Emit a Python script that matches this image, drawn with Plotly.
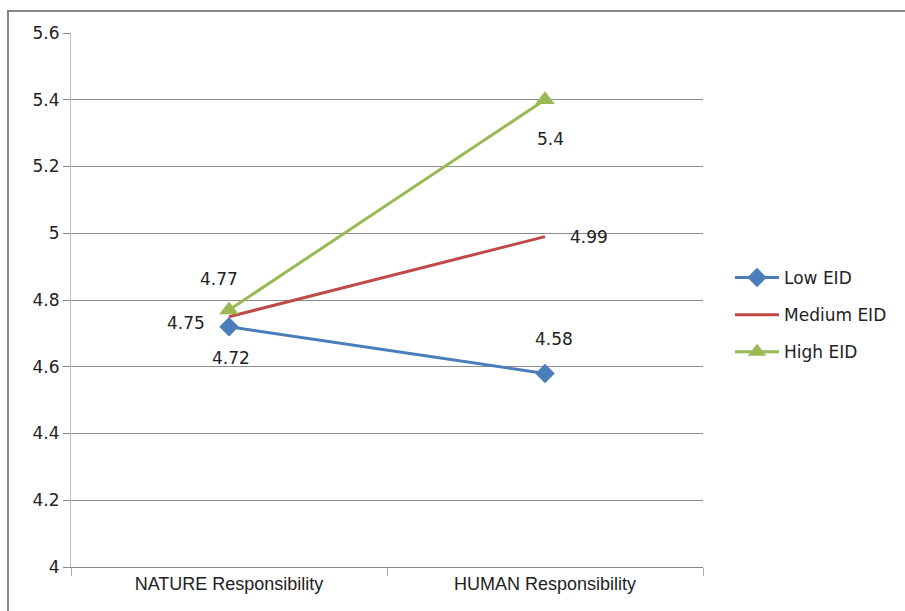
import plotly.graph_objects as go

# Categories and series values
categories = ["NATURE Responsibility", "HUMAN Responsibility"]
low_eid = [4.72, 4.58]
medium_eid = [4.75, 4.99]
high_eid = [4.77, 5.4]
y_ticks = [4, 4.2, 4.4, 4.6, 4.8, 5, 5.2, 5.4, 5.6]
y_tick_text = ["4", "4.2", "4.4", "4.6", "4.8", "5", "5.2", "5.4", "5.6"]

BLUE = "#4A7EBB"
RED = "#BE4B48"
GREEN = "#98B954"
NUM_FONT = dict(family="DejaVu Sans", size=17, color="#222222")

fig = go.Figure()
fig.add_trace(go.Scatter(
    x=categories, y=low_eid, name="Low EID", mode="lines+markers",
    line=dict(color=BLUE, width=3),
    marker=dict(symbol="diamond", size=15, color=BLUE),
    legendgroup="low",
))
fig.add_trace(go.Scatter(
    x=categories, y=medium_eid, name="Medium EID", mode="lines",
    line=dict(color=RED, width=3),
    legendgroup="med",
))
fig.add_trace(go.Scatter(
    x=categories, y=high_eid, name="High EID", mode="lines+markers",
    line=dict(color=GREEN, width=3),
    marker=dict(symbol="triangle-up", size=17, color=GREEN),
    legendgroup="high",
))

# Value labels, offset in pixels from each point
label_offsets = {
    "low": [(2, -31), (9, 34)],
    "med": [(-43, -6), (44, 0)],
    "high": [(-10, 31), (5, -39)],
}
series = {"low": low_eid, "med": medium_eid, "high": high_eid}
for key, vals in series.items():
    for i, v in enumerate(vals):
        dx, dy = label_offsets[key][i]
        fig.add_annotation(
            x=categories[i], y=v, text=f"{v:g}", showarrow=False,
            xshift=dx, yshift=dy, font=NUM_FONT,
        )

# Outer chart border (paper coordinates relative to plot area)
L, W, T, H = 71, 632, 33, 534
def px_x(p):
    return (p - L) / W
def px_y(p):
    return (T + H - p) / H
fig.add_shape(
    type="rect", xref="paper", yref="paper",
    x0=px_x(8), x1=px_x(915), y0=px_y(620), y1=px_y(11),
    line=dict(color="#878787", width=2), fillcolor="rgba(0,0,0,0)",
    layer="below",
)

fig.update_layout(
    width=905, height=611,
    margin=dict(l=L, r=905 - L - W, t=T, b=611 - T - H, autoexpand=False),
    paper_bgcolor="white", plot_bgcolor="white",
    showlegend=True,
    legend=dict(
        x=px_x(730), y=px_y(260), xanchor="left", yanchor="top",
        font=dict(family="DejaVu Sans", size=17, color="#222222"),
        traceorder="grouped", tracegroupgap=12, itemwidth=44,
        bgcolor="rgba(0,0,0,0)",
    ),
    xaxis=dict(
        type="category", range=[-0.5, 1.5],
        showgrid=False, showline=True, linecolor="#868686", linewidth=1,
        ticks="outside", tickson="boundaries", ticklen=8, tickcolor="#B0B0B0",
        tickfont=dict(family="Liberation Sans", size=18, color="#222222"),
        fixedrange=True,
    ),
    yaxis=dict(
        range=[4, 5.6], tickvals=y_ticks, ticktext=y_tick_text,
        showgrid=True, gridcolor="#8C8C8C", gridwidth=1,
        showline=True, linecolor="#BDBDBD", linewidth=1,
        ticks="outside", ticklen=7, tickcolor="#8C8C8C",
        tickfont=NUM_FONT, zeroline=False, fixedrange=True,
    ),
)

fig.write_html("out.html")
